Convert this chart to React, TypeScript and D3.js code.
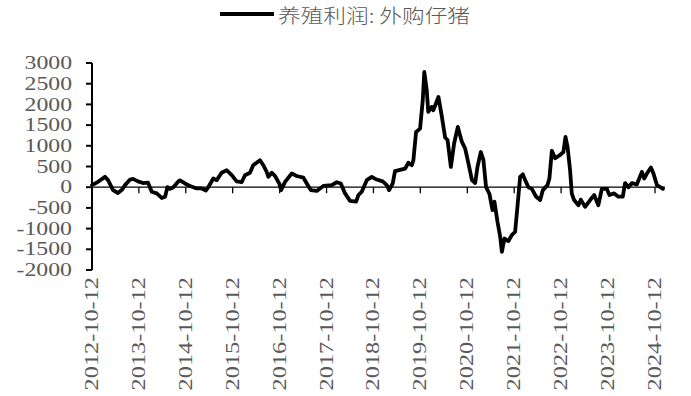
import React from "react";
import * as d3 from "d3";

const seriesName = "养殖利润: 外购仔猪";

const dates: string[] = [
  "2012-10-12","2012-11-28","2013-01-21","2013-02-14","2013-03-25","2013-05-02","2013-05-31","2013-06-26",
  "2013-08-04","2013-08-27","2013-10-05","2013-11-13","2013-12-22","2014-01-20","2014-02-28","2014-04-08",
  "2014-05-04","2014-05-22","2014-06-12","2014-07-07","2014-08-15","2014-08-28","2014-10-06","2014-11-14",
  "2015-01-05","2015-02-13","2015-03-18","2015-04-05","2015-05-14","2015-06-10","2015-07-18","2015-08-27",
  "2015-10-05","2015-11-12","2015-12-21","2016-01-16","2016-02-24","2016-03-20","2016-05-12","2016-06-07",
  "2016-07-03","2016-07-16","2016-08-11","2016-09-06","2016-10-10","2016-10-23","2016-11-23","2017-01-14",
  "2017-02-22","2017-04-15","2017-05-11","2017-06-11","2017-07-28","2017-09-17","2017-11-21","2017-12-31",
  "2018-01-31","2018-03-05","2018-04-13","2018-05-30","2018-06-17","2018-07-13","2018-08-21","2018-09-29",
  "2018-11-06","2018-12-23","2019-01-24","2019-02-11","2019-03-11","2019-03-29","2019-05-07","2019-06-16",
  "2019-07-11","2019-08-07","2019-08-19","2019-09-09","2019-10-10","2019-10-31","2019-11-12","2019-12-01",
  "2019-12-13","2020-01-09","2020-01-21","2020-03-01","2020-03-28","2020-04-22","2020-05-11","2020-06-06",
  "2020-07-01","2020-07-30","2020-08-30","2020-09-25","2020-10-21","2020-11-17","2020-12-12","2020-12-30",
  "2021-01-25","2021-02-14","2021-03-07","2021-04-02","2021-04-26","2021-05-11","2021-06-04","2021-06-25",
  "2021-07-08","2021-07-28","2021-08-28","2021-09-24","2021-10-19","2021-11-06","2021-11-27","2021-12-18",
  "2022-01-05","2022-01-31","2022-02-26","2022-04-01","2022-05-02","2022-05-23","2022-06-28","2022-07-13",
  "2022-08-01","2022-08-27","2022-10-05","2022-10-30","2022-11-15","2022-12-01","2022-12-21","2023-01-03",
  "2023-01-21","2023-02-24","2023-03-14","2023-04-17","2023-05-26","2023-06-26","2023-07-29","2023-08-25",
  "2023-10-03","2023-10-23","2023-11-29","2024-01-01","2024-02-04","2024-02-22","2024-03-19","2024-04-15",
  "2024-05-24","2024-07-02","2024-07-20","2024-08-10","2024-09-10","2024-09-30","2024-10-27","2024-11-22",
  "2024-12-13",
];

const values: number[] = [
  50,130,250,170,-70,-140,-70,50,
  185,200,140,100,110,-110,-150,-260,
  -230,0,-40,0,140,165,90,30,
  -30,-30,-80,0,210,170,350,410,
  290,140,120,290,350,530,650,530,
  370,250,350,270,80,-70,130,330,
  270,230,90,-70,-90,30,50,120,
  90,-150,-330,-350,-190,-110,170,250,
  185,140,50,-70,90,390,420,450,
  590,530,650,1335,1415,2100,2785,2340,
  1820,1940,1860,2180,1700,1200,1140,490,
  1055,1455,1100,935,570,170,100,490,
  850,660,0,-160,-555,-350,-840,-1200,
  -1560,-1240,-1300,-1150,-1080,-475,250,310,
  170,0,-40,-230,-310,-70,50,210,
  880,700,780,850,1215,980,410,-150,
  -310,-435,-300,-475,-310,-190,-435,-40,
  -40,-190,-150,-230,-230,100,0,100,
  70,370,210,330,475,330,50,0,
  -40,
];

const yTicks: number[] = [3000, 2500, 2000, 1500, 1000, 500, 0, -500, -1000, -1500, -2000];
const xTickLabels: string[] = [
  "2012-10-12","2013-10-12","2014-10-12","2015-10-12","2016-10-12","2017-10-12","2018-10-12",
  "2019-10-12","2020-10-12","2021-10-12","2022-10-12","2023-10-12","2024-10-12",
];

const W = 691;
const H = 396;
const LABEL_COLOR = "#595959";
const NUM_FONT = "'Liberation Serif', 'Times New Roman', serif";

export default function App() {
  const parse = d3.timeParse("%Y-%m-%d");
  const data = dates.map((d, i) => ({ date: parse(d) as Date, value: values[i] }));
  const tickDates = xTickLabels.map((d) => parse(d) as Date);

  const x = d3
    .scaleTime()
    .domain([tickDates[0], tickDates[tickDates.length - 1]])
    .range([92, 655]);
  const y = d3.scaleLinear().domain([-2000, 3000]).range([270, 63]);

  const line = d3
    .line<{ date: Date; value: number }>()
    .x((d) => x(d.date))
    .y((d) => y(d.value))
    .curve(d3.curveLinear);

  const fmt = (v: number) => (v < 0 ? "-" + Math.abs(v) : String(v));

  return (
    <div style={{ position: "absolute", left: 0, top: 0, width: W, height: H, background: "#fff" }}>
      <svg width={W} height={H} style={{ display: "block" }}>
        <rect x={0} y={0} width={W} height={H} fill="#fff" />
        {/* legend */}
        <line x1={220} x2={274} y1={14} y2={14} stroke="#000" strokeWidth={3.8} />
        <text
          x={278}
          y={14}
          dominantBaseline="central"
          fontFamily="'Noto Sans CJK SC', sans-serif"
          fontWeight={300}
          fontSize={19}
          fill={LABEL_COLOR}
          textLength={192}
          lengthAdjust="spacingAndGlyphs"
        >
          {seriesName}
        </text>

        {/* y axis */}
        <line x1={92} x2={92} y1={y(3000)} y2={y(-2000)} stroke="#000" strokeWidth={2} />
        {yTicks.map((t) => (
          <g key={t}>
            <line x1={86} x2={92} y1={y(t)} y2={y(t)} stroke="#000" strokeWidth={2} />
            <text
              transform={`translate(72,${y(t)}) scale(1.25,1)`}
              textAnchor="end"
              dominantBaseline="central"
              fontFamily={NUM_FONT}
              fontSize={19}
              fill={LABEL_COLOR}
            >
              {fmt(t)}
            </text>
          </g>
        ))}

        {/* zero line + x ticks */}
        <line x1={92} x2={665} y1={y(0)} y2={y(0)} stroke="#000" strokeWidth={1.3} />
        {tickDates.map((d, i) => (
          <g key={xTickLabels[i]}>
            <line x1={x(d)} x2={x(d)} y1={y(0)} y2={y(0) + 6} stroke="#000" strokeWidth={1.3} />
            <text
              transform={`translate(${x(d) + 6},277) rotate(-90) scale(1.28,1)`}
              textAnchor="end"
              fontFamily={NUM_FONT}
              fontSize={19}
              fill={LABEL_COLOR}
            >
              {xTickLabels[i]}
            </text>
          </g>
        ))}

        {/* series */}
        <path d={line(data) ?? ""} fill="none" stroke="#000" strokeWidth={3.8} strokeLinejoin="round" strokeLinecap="round" />
      </svg>
    </div>
  );
}
